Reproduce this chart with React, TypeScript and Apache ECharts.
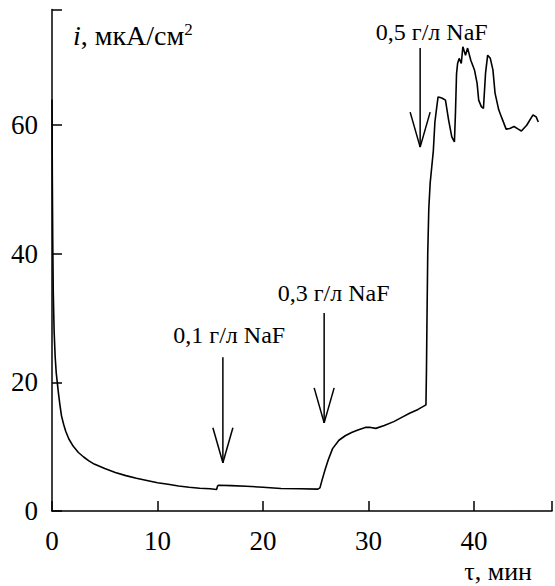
import React, { useEffect, useRef } from "react";
import * as echarts from "echarts";

// time, min
const timeMin = [
  0, 0.03, 0.07, 0.12, 0.2, 0.3, 0.4, 0.5, 0.6, 0.75, 0.9, 1.1, 1.3, 1.6, 2.0, 2.5, 3.0, 3.5, 4.0, 5.0,
  6.0, 7.0, 8.0, 9.0, 10.0, 11.0, 12.0, 13.0, 14.0, 15.0, 15.6, 15.7, 15.8, 17.0, 18.4, 20.0, 21.7, 23.5,
  25.2, 25.4, 25.6, 25.9, 26.2, 26.6, 27.2, 27.8, 28.4, 29.0, 29.7, 30.2, 30.7, 31.5, 32.4, 33.2, 33.9,
  34.7, 35.45, 35.5, 35.55, 35.62, 35.72, 35.85, 36.0, 36.15, 36.3, 36.45, 36.6, 36.8, 37.0, 37.3, 37.6,
  37.9, 38.15, 38.25, 38.35, 38.45, 38.6, 38.8, 38.95, 39.2, 39.4, 39.7, 40.05, 40.3, 40.45, 40.7, 40.9,
  41.1, 41.3, 41.55, 41.8, 42.0, 42.35, 42.65, 43.05, 43.4, 43.8, 44.2, 44.5, 45.0, 45.6, 45.9, 46.1,
];
// current density, uA/cm2
const currentUA = [
  64, 52, 42, 34, 28, 24, 21.5, 20, 18.5, 16.5, 14.8, 13.5, 12.4, 11.2, 10.1, 9.1, 8.4, 7.8, 7.3, 6.6,
  6.0, 5.5, 5.1, 4.75, 4.4, 4.15, 3.9, 3.7, 3.55, 3.45, 3.35, 3.9, 4.0, 3.95, 3.85, 3.7, 3.5, 3.45,
  3.4, 3.6, 4.8, 6.5, 8.0, 9.7, 11.0, 11.7, 12.2, 12.6, 13.0, 13.0, 12.85, 13.3, 13.9, 14.6, 15.2,
  15.8, 16.5, 22, 30, 40, 47, 51, 53.5, 56, 60.5, 62.5, 64.4, 64.3, 64.2, 63.9, 60.8,
  58.2, 57.4, 62, 68, 69.6, 70.4, 69.6, 72.2, 70.9, 72.0, 70.1, 68.6, 66.5, 63.9, 62.9, 62.6,
  68.1, 70.9, 70.4, 68.6, 65.0, 62.4, 61.1, 59.4, 59.5, 59.8, 59.4, 59.1, 60.0, 61.6, 61.3, 60.5,
];

const xTicks = [0, 10, 20, 30, 40];
const yTicks = [0, 20, 40, 60];

// annotations (arrows) in data units
const arrowLabels = ["0,1 г/л NaF", "0,3 г/л NaF", "0,5 г/л NaF"];
const arrowT = [16.2, 25.8, 34.9];
const arrowTop = [23.9, 30.8, 72];
const arrowTip = [7.5, 13.7, 56.6];
const labelT = [16.8, 26.7, 36.0];
const labelV = [27.4, 33.9, 74.5];

const FONT = "Liberation Serif";

export default function App() {
  const ref = useRef<HTMLDivElement>(null);
  useEffect(() => {
    if (!ref.current) return;
    const chart = echarts.init(ref.current, null, { renderer: "svg" });
    const data = timeMin.map((t, i) => [t, currentUA[i]]);
    const axisCommon = {
      type: "value" as const,
      axisLine: { show: true, onZero: false, lineStyle: { color: "#000", width: 1.5 } },
      axisTick: { show: true, inside: true, length: 10, lineStyle: { color: "#000", width: 1.5 } },
      splitLine: { show: false },
    };
    chart.setOption({
      animation: false,
      backgroundColor: "#fff",
      textStyle: { fontFamily: FONT },
      grid: { left: 52, right: 0, top: 9.5, bottom: 75 },
      xAxis: {
        ...axisCommon,
        min: xTicks[0],
        max: 47.4,
        interval: xTicks[1] - xTicks[0],
        axisLabel: {
          color: "#000",
          fontSize: 27,
          margin: 16,
          fontFamily: FONT,
          formatter: (v: number) => (xTicks.includes(v) ? String(v) : ""),
        },
      },
      yAxis: {
        ...axisCommon,
        min: yTicks[0],
        max: 78,
        interval: yTicks[1] - yTicks[0],
        axisLabel: {
          color: "#000",
          fontSize: 27,
          margin: 14,
          fontFamily: FONT,
          formatter: (v: number) => (yTicks.includes(v) ? String(v) : ""),
        },
      },
      series: [
        {
          type: "line",
          data,
          symbol: "none",
          showSymbol: false,
          lineStyle: { color: "#000", width: 1.6 },
        },
      ],
    });

    const graphics: any[] = [];
    arrowT.forEach((t, i) => {
      const [x, y1] = chart.convertToPixel({ gridIndex: 0 }, [t, arrowTop[i]]) as number[];
      const [, y2] = chart.convertToPixel({ gridIndex: 0 }, [t, arrowTip[i]]) as number[];
      const [lx, ly] = chart.convertToPixel({ gridIndex: 0 }, [labelT[i], labelV[i]]) as number[];
      const ls = { stroke: "#000", lineWidth: 1.5 };
      graphics.push({ type: "line", shape: { x1: x, y1, x2: x, y2 }, style: ls, silent: true });
      graphics.push({ type: "line", shape: { x1: x - 10, y1: y2 - 35, x2: x, y2 }, style: ls, silent: true });
      graphics.push({ type: "line", shape: { x1: x + 10, y1: y2 - 35, x2: x, y2 }, style: ls, silent: true });
      graphics.push({
        type: "text",
        x: lx,
        y: ly,
        style: {
          text: arrowLabels[i],
          fill: "#000",
          fontSize: 24,
          fontFamily: FONT,
          align: "center",
          verticalAlign: "middle",
        },
        silent: true,
      });
    });
    graphics.push({
      type: "text",
      x: 73,
      y: 35,
      style: {
        text: "{it|i}, мкА/см{sup|2}",
        fill: "#000",
        fontSize: 28,
        fontFamily: FONT,
        verticalAlign: "middle",
        rich: {
          it: { fontStyle: "italic", fontSize: 28, fontFamily: FONT, fill: "#000" },
          sup: { fontSize: 17, fontFamily: FONT, verticalAlign: "top", fill: "#000" },
        },
      },
      silent: true,
    });
    graphics.push({
      type: "text",
      x: 532,
      y: 571,
      style: {
        text: "τ, мин",
        fill: "#000",
        fontSize: 26,
        fontFamily: FONT,
        align: "right",
        verticalAlign: "middle",
      },
      silent: true,
    });
    chart.setOption({ graphic: graphics });
    return () => chart.dispose();
  }, []);
  return (
    <div
      ref={ref}
      style={{ position: "fixed", left: 0, top: 0, width: 555, height: 586 }}
    />
  );
}
